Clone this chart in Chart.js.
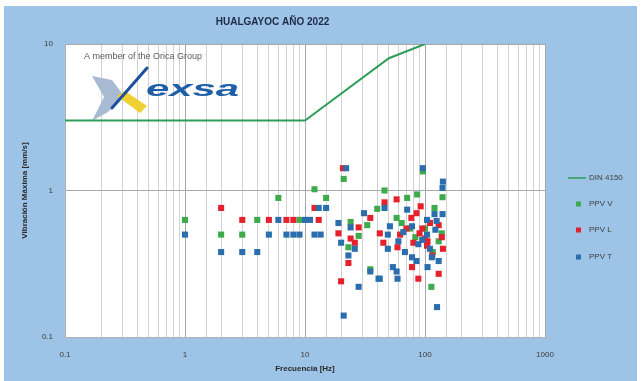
<!DOCTYPE html>
<html>
<head>
<meta charset="utf-8">
<script src="https://cdn.jsdelivr.net/npm/chart.js@4.4.1/dist/chart.umd.min.js"></script>
<style>
  html, body { margin: 0; padding: 0; background: #ffffff; }
  #wrap { width: 641px; height: 381px; }
</style>
</head>
<body>
<div id="wrap"><canvas id="c" width="641" height="381"></canvas></div>
<script>
// DIN 4150 limit curve (frequency in Hz, velocity in mm/s)
const dinFreq = [0.1, 10, 50, 100];
const dinVel  = [3, 3, 8, 10];

// PPV vertical component
const vFreq = [1, 2, 3, 4, 6, 9, 12, 15, 21, 24, 33, 28, 23, 35, 96, 140, 46, 71, 86, 120, 58, 64, 138, 83, 116, 113, 40, 75, 100, 130];
const vVel  = [0.63, 0.5, 0.5, 0.63, 0.89, 0.63, 1.02, 0.89, 1.2, 0.61, 0.58, 0.49, 0.41, 0.29, 1.35, 0.9, 1.0, 0.89, 0.94, 0.76, 0.65, 0.6, 0.51, 0.48, 0.38, 0.22, 0.75, 0.55, 0.55, 0.45];

// PPV longitudinal component
const lFreq = [2, 3, 5, 7, 8, 12, 13, 20.7, 19, 28, 35, 24, 26, 23, 20, 46, 58, 92, 77, 130, 90, 42, 62, 105, 138, 80, 45, 59, 104, 141, 78, 88, 130, 95, 100, 110, 70, 115, 85];
const lVel  = [0.76, 0.63, 0.63, 0.63, 0.63, 0.76, 0.63, 1.42, 0.51, 0.56, 0.65, 0.47, 0.44, 0.32, 0.24, 0.83, 0.87, 0.78, 0.65, 0.58, 0.51, 0.51, 0.5, 0.45, 0.48, 0.44, 0.44, 0.41, 0.42, 0.4, 0.3, 0.25, 0.27, 0.55, 0.47, 0.6, 0.55, 0.36, 0.7];

// PPV transversal component
const tFreq = [1, 2, 3, 4, 5, 6, 7, 8, 9, 10, 11, 13, 12, 15, 13.5, 19, 20, 22, 24, 31, 26, 23, 35, 41, 28, 21, 96, 141, 140, 46, 71, 120, 140, 104, 51, 78, 122, 104, 49, 88, 49, 68, 78, 85, 114, 130, 105, 54, 58, 59, 42, 126, 60, 95, 110, 125, 66];
const tVel  = [0.5, 0.38, 0.38, 0.38, 0.5, 0.63, 0.5, 0.5, 0.5, 0.63, 0.63, 0.76, 0.5, 0.76, 0.5, 0.6, 0.44, 1.42, 0.56, 0.7, 0.4, 0.36, 0.28, 0.25, 0.22, 0.14, 1.42, 1.15, 1.04, 0.76, 0.74, 0.69, 0.69, 0.63, 0.57, 0.57, 0.54, 0.5, 0.5, 0.43, 0.4, 0.38, 0.35, 0.33, 0.35, 0.33, 0.3, 0.3, 0.28, 0.25, 0.25, 0.16, 0.45, 0.46, 0.4, 0.62, 0.52];

// Axis tick labels shown on the decades
const xTickLabels = [0.1, 1, 10, 100, 1000];
const yTickLabels = [0.1, 1, 10];

const pts = (fs, vs) => fs.map((f, i) => ({ x: f, y: vs[i] }));
const isDecade = v => Math.abs(Math.log10(v) - Math.round(Math.log10(v))) < 1e-6;
const labelFor = (list) => (v) => {
  const hit = list.find(t => Math.abs(t - v) / t < 1e-6);
  return hit === undefined ? '' : String(hit);
};

const COL_V = '#3DAA4C';
const COL_L = '#E3222D';
const COL_T = '#2A6EAD';
const COL_DIN = '#2E9E58';

// Blue frame and white plotting area
const framePlugin = {
  id: 'frame',
  beforeDraw(chart) {
    const { ctx, chartArea: a } = chart;
    ctx.save();
    ctx.fillStyle = '#ffffff';
    ctx.fillRect(0, 0, chart.width, chart.height);
    ctx.fillStyle = '#9DC3E6';
    ctx.fillRect(4, 6, 633, 375);
    ctx.fillStyle = '#ffffff';
    ctx.fillRect(a.left, a.top, a.right - a.left, a.bottom - a.top);
    ctx.restore();
  }
};

// Company mark in the upper-left corner of the plot
const logoPlugin = {
  id: 'logo',
  beforeDatasetsDraw(chart) {
    const ctx = chart.ctx;
    ctx.save();
    ctx.fillStyle = '#5A5A5A';
    ctx.font = '9px "Liberation Sans", Arial, sans-serif';
    ctx.textBaseline = 'middle';
    ctx.fillText('A member of the Orica Group', 84, 57);

    // swoosh "X"
    ctx.fillStyle = '#A9BAD3';
    ctx.beginPath();
    ctx.moveTo(92, 76); ctx.lineTo(112, 80); ctx.lineTo(124, 96);
    ctx.lineTo(108, 112); ctx.lineTo(92, 121); ctx.lineTo(104, 97);
    ctx.closePath(); ctx.fill();
    ctx.fillStyle = '#F0D033';
    ctx.beginPath();
    ctx.moveTo(117, 96); ctx.lineTo(125, 91); ctx.lineTo(147, 106); ctx.lineTo(140, 113);
    ctx.closePath(); ctx.fill();
    ctx.strokeStyle = '#1D4F9E';
    ctx.lineWidth = 3;
    ctx.lineCap = 'round';
    ctx.beginPath(); ctx.moveTo(112, 108); ctx.lineTo(147, 68); ctx.stroke();

    // wordmark
    ctx.fillStyle = '#1F5EA8';
    ctx.font = 'italic bold 22px "Liberation Sans", Arial, sans-serif';
    ctx.textBaseline = 'alphabetic';
    ctx.translate(146, 96);
    ctx.scale(1.9, 1);
    ctx.fillText('exsa', 0, 0);
    ctx.restore();
  }
};

// Legend at the right side of the frame
const sideLegend = {
  id: 'sideLegend',
  afterDraw(chart) {
    const ctx = chart.ctx;
    const rows = [
      { label: 'DIN 4150', color: COL_DIN, line: true, y: 178 },
      { label: 'PPV V', color: COL_V, y: 204 },
      { label: 'PPV L', color: COL_L, y: 230 },
      { label: 'PPV T', color: COL_T, y: 257 }
    ];
    ctx.save();
    ctx.font = '8px "Liberation Sans", Arial, sans-serif';
    ctx.textBaseline = 'middle';
    rows.forEach(r => {
      if (r.line) {
        ctx.strokeStyle = r.color; ctx.lineWidth = 1.5;
        ctx.beginPath(); ctx.moveTo(568, r.y); ctx.lineTo(586, r.y); ctx.stroke();
      } else {
        ctx.fillStyle = r.color;
        ctx.fillRect(576, r.y - 2.5, 5, 5);
      }
      ctx.fillStyle = '#404040';
      ctx.fillText(r.label, 589, r.y);
    });
    ctx.restore();
  }
};

const pointDs = (label, color, data, order) => ({
  label, data, order,
  type: 'scatter',
  showLine: false,
  pointStyle: 'rect',
  pointRadius: 4.3,
  pointHoverRadius: 4.3,
  borderWidth: 0,
  backgroundColor: color,
  borderColor: color
});

new Chart(document.getElementById('c'), {
  type: 'scatter',
  data: {
    datasets: [
      {
        label: 'DIN 4150', data: pts(dinFreq, dinVel), order: 4,
        type: 'line', showLine: true, borderColor: COL_DIN, borderWidth: 2,
        pointRadius: 0, fill: false, tension: 0
      },
      pointDs('PPV V', COL_V, pts(vFreq, vVel), 3),
      pointDs('PPV L', COL_L, pts(lFreq, lVel), 2),
      pointDs('PPV T', COL_T, pts(tFreq, tVel), 1)
    ]
  },
  options: {
    responsive: false,
    animation: false,
    events: [],
    layout: { padding: { left: 0, right: 96, top: 0, bottom: 0 } },
    plugins: {
      legend: { display: false },
      tooltip: { enabled: false },
      title: {
        display: true,
        text: 'HUALGAYOC AÑO 2022',
        color: '#1E2B48',
        font: { family: '"Liberation Sans", Arial, sans-serif', size: 10, weight: 'bold' },
        padding: { top: 16, bottom: 16 }
      }
    },
    scales: {
      x: {
        type: 'logarithmic',
        min: 0.1, max: 1000,
        afterFit(s) { s.height = 44; },
        border: { display: true, color: '#B0B0B0' },
        grid: {
          drawTicks: false,
          color: c => isDecade(c.tick.value) ? '#A8A8A8' : '#D2D2D2',
          lineWidth: 1
        },
        ticks: {
          autoSkip: false, maxRotation: 0, padding: 13,
          color: '#404040',
          font: { family: '"Liberation Sans", Arial, sans-serif', size: 8 },
          callback: labelFor(xTickLabels)
        },
        title: {
          display: true, text: 'Frecuencia [Hz]', color: '#2A2A2A',
          font: { family: '"Liberation Sans", Arial, sans-serif', size: 8, weight: 'bold' },
          padding: { top: 0, bottom: 7 }
        }
      },
      y: {
        type: 'logarithmic',
        min: 0.1, max: 10,
        afterFit(s) { s.width = 65; },
        border: { display: true, color: '#B0B0B0' },
        grid: {
          drawTicks: false,
          color: c => isDecade(c.tick.value) ? '#A8A8A8' : 'rgba(0,0,0,0)',
          lineWidth: 1
        },
        ticks: {
          autoSkip: false, padding: 12,
          color: '#404040',
          font: { family: '"Liberation Sans", Arial, sans-serif', size: 8 },
          callback: labelFor(yTickLabels)
        },
        title: {
          display: true, text: 'Vibración Máxima [mm/s]', color: '#2A2A2A',
          font: { family: '"Liberation Sans", Arial, sans-serif', size: 8, weight: 'bold' },
          padding: { top: 20, bottom: 0 }
        }
      }
    }
  },
  plugins: [framePlugin, logoPlugin, sideLegend]
});
</script>
</body>
</html>
